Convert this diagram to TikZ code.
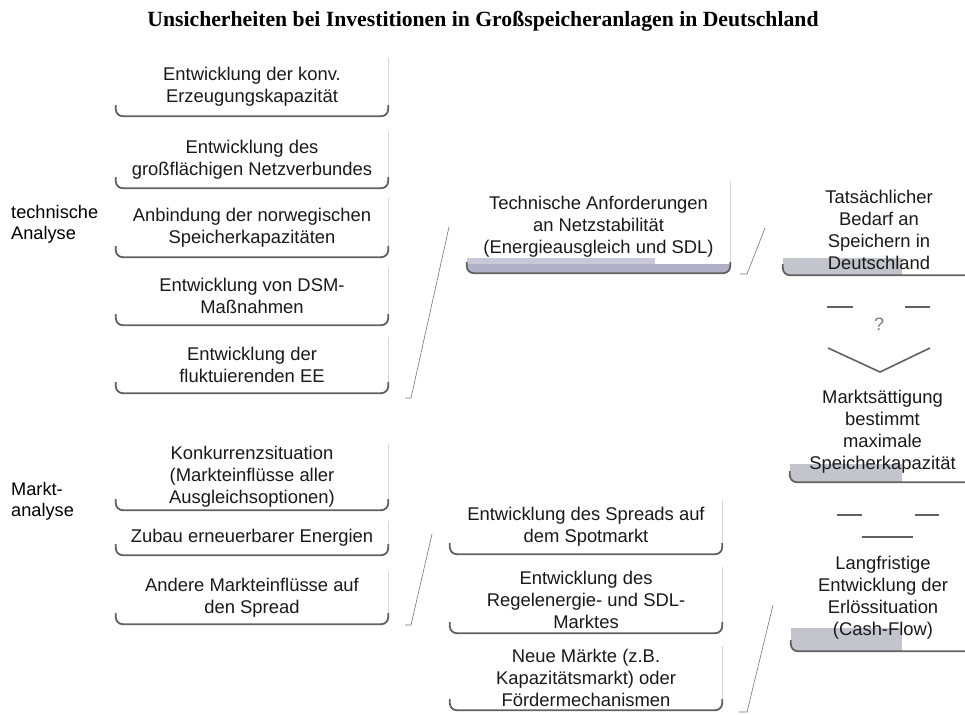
\documentclass[tikz,border=0pt]{standalone}
\usepackage{fontspec}
\setmainfont{Liberation Sans}
\newfontfamily\titlefont{Liberation Serif}
\definecolor{bandc}{HTML}{C4C4CC}
\definecolor{bandA}{HTML}{C8C8D8}
\definecolor{bandB}{HTML}{B0B0C8}
\definecolor{qmark}{HTML}{8A7474}
\tikzset{
  boxtext/.style={inner sep=0pt, align=center, font=\fontsize{18.4}{22}\selectfont, text=black!90},
  boxedge/.style={draw=black!62, line width=1.8pt, rounded corners=7pt},
  boxside/.style={draw=black!16, line width=0.8pt},
  bracketline/.style={draw=black!55, line width=0.6pt},
  dashbar/.style={draw=black!62, line width=2pt},
  vline/.style={draw=black!62, line width=1.6pt},
  sidelabel/.style={inner sep=0pt, anchor=west, align=left, font=\fontsize{18.2}{21}\selectfont},
}
\newcommand\ubx[6]{%
  \node[boxtext, minimum width={#4-#2}, minimum height={#5-#3}] (#1) at ({(#2+#4)/2},{(#3+#5)/2}) {#6};
  \draw[boxside] (#1.north east) -- ([yshift=9pt]#1.south east);
  \draw[boxedge] ([yshift=11pt]#1.south west) -- (#1.south west) -- (#1.south east) -- ([yshift=11pt]#1.south east);
}
\newcommand\rbx[6]{%
  \begin{scope}
    \clip[rounded corners=7pt] (#2,#3) rectangle (975,#4);
    \fill[bandc] (#2,#5) rectangle (902,#4);
  \end{scope}
  \ubx{#1}{#2}{#3}{975}{#4}{#6}
}
\begin{document}
\begin{tikzpicture}[x=1pt,y=-1pt]
\useasboundingbox (0,0) rectangle (965,714);
\clip (0,0) rectangle (965,714);

\node[inner sep=0pt, font=\titlefont\bfseries\fontsize{21.7}{24}\selectfont] (title) at (483,21)
  {Unsicherheiten bei Investitionen in Großspeicheranlagen in Deutschland};

\node[sidelabel] (techlabel) at (11,224) {technische\\Analyse};
\node[sidelabel] (marktlabel) at (11,501) {Markt-\\analyse};

% left column
\ubx{l1}{116}{58}{388}{116}{Entwicklung der konv.\\Erzeugungskapazität}
\ubx{l2}{116}{131}{388}{188}{Entwicklung des\\großflächigen Netzverbundes}
\ubx{l3}{116}{198}{388}{257}{Anbindung der norwegischen\\Speicherkapazitäten}
\ubx{l4}{116}{267}{388}{325}{Entwicklung von DSM-\\Maßnahmen}
\ubx{l5}{116}{337}{388}{393}{Entwicklung der\\fluktuierenden EE}
\ubx{l6}{116}{444}{388}{510}{Konkurrenzsituation\\(Markteinflüsse aller\\Ausgleichsoptionen)}
\ubx{l7}{116}{521}{388}{555}{Zubau erneuerbarer Energien}
\ubx{l8}{116}{571}{388}{624}{Andere Markteinflüsse auf\\den Spread}

% middle top box with band
\fill[bandA] (467,258) rectangle (655,266);
\begin{scope}
  \clip[rounded corners=7pt] (467,181) rectangle (730,273);
  \fill[bandB] (467,264) rectangle (730,273);
\end{scope}
\ubx{m0}{467}{181}{730}{273}{Technische Anforderungen\\an Netzstabilität\\(Energieausgleich und SDL)}

% middle lower boxes
\ubx{m1}{450}{500}{722}{554}{Entwicklung des Spreads auf\\dem Spotmarkt}
\ubx{m2}{450}{567}{722}{633}{Entwicklung des\\Regelenergie- und SDL-\\Marktes}
\ubx{m3}{450}{646}{722}{710}{Neue Märkte (z.B.\\Kapazitätsmarkt) oder\\Fördermechanismen}

% right column
\rbx{r1}{783}{185}{275}{258}{Tatsächlicher\\Bedarf an\\Speichern in\\Deutschland}
\rbx{r2}{790}{382}{482}{464}{Marktsättigung\\bestimmt\\maximale\\Speicherkapazität}
\rbx{r3}{791}{545}{651}{628}{Langfristige\\Entwicklung der\\Erlössituation\\(Cash-Flow)}

% brackets
\coordinate (b1a) at (405,398); \coordinate (b1b) at (411,398); \coordinate (b1c) at (449,227);
\draw[bracketline] (b1a) -- (b1b) -- (b1c);
\coordinate (b2a) at (740,274); \coordinate (b2b) at (747,274); \coordinate (b2c) at (765,228);
\draw[bracketline] (b2a) -- (b2b) -- (b2c);
\coordinate (b3a) at (405,625); \coordinate (b3b) at (411,625); \coordinate (b3c) at (432,534);
\draw[bracketline] (b3a) -- (b3b) -- (b3c);
\coordinate (b4a) at (739,712); \coordinate (b4b) at (747,712); \coordinate (b4c) at (773,605);
\draw[bracketline] (b4a) -- (b4b) -- (b4c);

% arrow 1 (with question mark)
\coordinate (d1a) at (827,307); \coordinate (d1b) at (853,307);
\coordinate (d1c) at (905,307); \coordinate (d1d) at (930,307);
\draw[dashbar] (d1a) -- (d1b);
\draw[dashbar] (d1c) -- (d1d);
\node[inner sep=0pt, text=qmark, font=\fontsize{18}{20}\selectfont] (q) at (879,324) {?};
\coordinate (v1a) at (828,348); \coordinate (v1b) at (880,372); \coordinate (v1c) at (930,348);
\draw[vline] (v1a) -- (v1b) -- (v1c);

% arrow 2
\coordinate (d2a) at (837,515); \coordinate (d2b) at (862,515);
\coordinate (d2c) at (915,515); \coordinate (d2d) at (939,515);
\draw[dashbar] (d2a) -- (d2b);
\draw[dashbar] (d2c) -- (d2d);
\coordinate (e2a) at (862,537); \coordinate (e2b) at (913,537);
\draw[vline] (e2a) -- (e2b);
\end{tikzpicture}
\end{document}
